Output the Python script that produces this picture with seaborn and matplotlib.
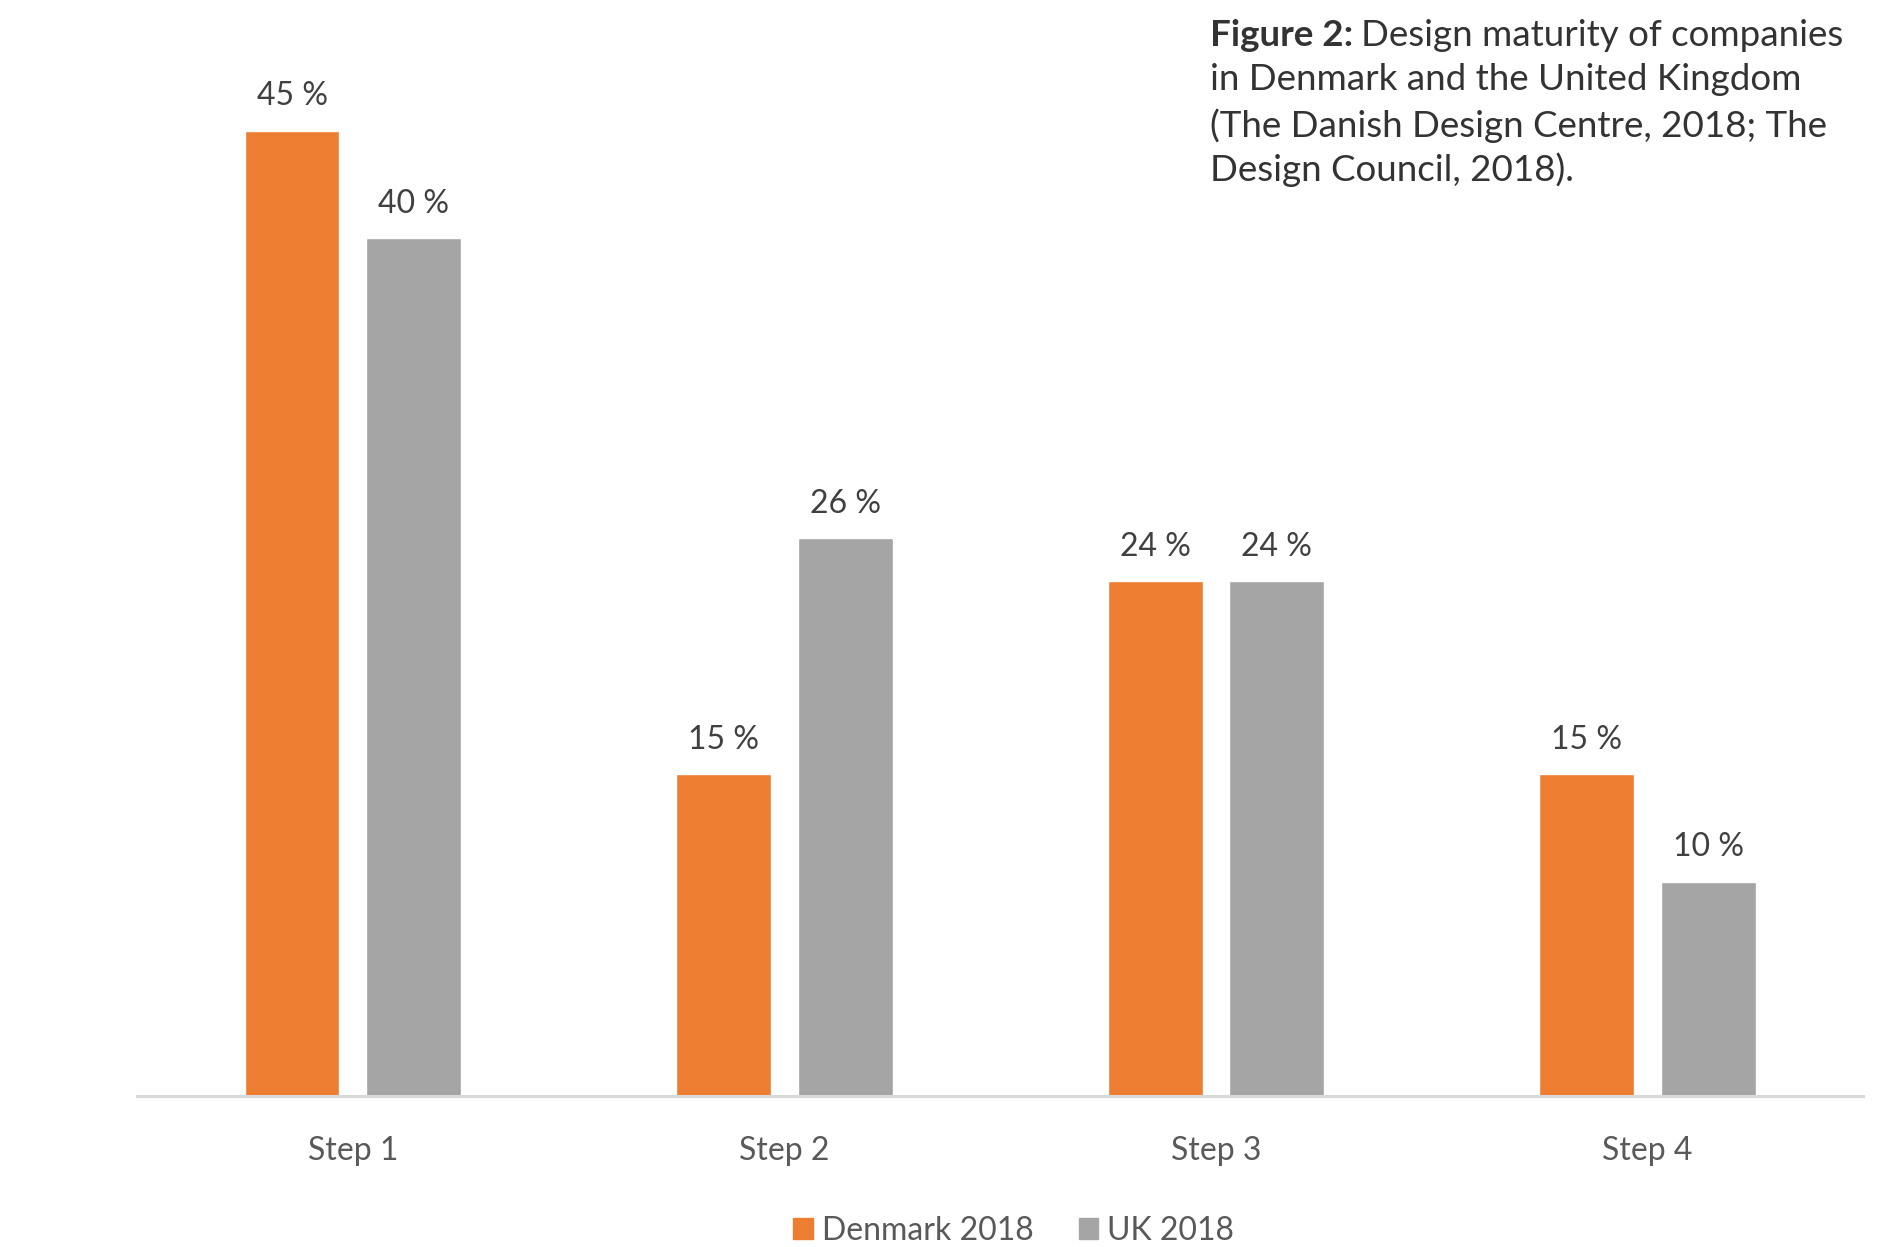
import pandas as pd
import matplotlib.pyplot as plt
import seaborn as sns

steps = ["Step 1", "Step 2", "Step 3", "Step 4"]
denmark = [45, 15, 24, 15]
uk = [40, 26, 24, 10]
series = ["Denmark 2018", "UK 2018"]
colors = ["#ED7D31", "#A5A5A5"]
title_lead = "Figure 2:"
title_lines = ["Design maturity of companies",
               "in Denmark and the United Kingdom",
               "(The Danish Design Centre, 2018; The",
               "Design Council, 2018)."]

df = pd.DataFrame({
    "Step": steps * 2,
    "Value": denmark + uk,
    "Series": [series[0]] * 4 + [series[1]] * 4,
})

sns.set_style("white")
plt.rcParams["font.family"] = ["Lato", "DejaVu Sans"]
text_col = "#404040"

fig = plt.figure(figsize=(18.88, 12.47), dpi=100)
ax = fig.add_axes([0.0726, 0.121, 0.9144, 0.86])

sns.barplot(data=df, x="Step", y="Value", hue="Series", palette=colors,
            width=0.564, gap=0.22, saturation=1, ax=ax, legend=False)

for cont in ax.containers:
    ax.bar_label(cont, labels=[f"{int(b.get_height())} %" for b in cont],
                 padding=14, fontsize=23, color=text_col)

ax.set_xlim(-0.5, 3.5)
ax.set_ylim(0, 50)
ax.set_xlabel("")
ax.set_ylabel("")
ax.set_yticks([])
ax.tick_params(axis="x", length=0, pad=29, labelsize=23, labelcolor="#595959")
for s in ["top", "right", "left"]:
    ax.spines[s].set_visible(False)
ax.spines["bottom"].set_color("#D9D9D9")
ax.spines["bottom"].set_linewidth(2.2)

handles = [plt.Rectangle((0, 0), 1, 1, color=c) for c in colors]
fig.legend(handles, series, loc="lower center", bbox_to_anchor=(0.537, -0.022),
           ncol=2, frameon=False, fontsize=23, handlelength=0.6, handleheight=0.6,
           handletextpad=0.3, columnspacing=1.4, labelcolor="#595959")

# title block: bold lead-in, then one text per line
tkw = dict(fontsize=26.5, color="#333333", va="top", ha="left")
x0, y0, step = 0.641, 0.985, 0.0358
lead = fig.text(x0, y0, title_lead, fontweight="bold", **tkw)
fig.canvas.draw()
bb = lead.get_window_extent()
fig.text(bb.x1 / fig.bbox.width + 0.004, y0, title_lines[0], **tkw)
for i, line in enumerate(title_lines[1:], start=1):
    fig.text(x0, y0 - i * step, line, **tkw)

fig.savefig("out.png", dpi=100)
